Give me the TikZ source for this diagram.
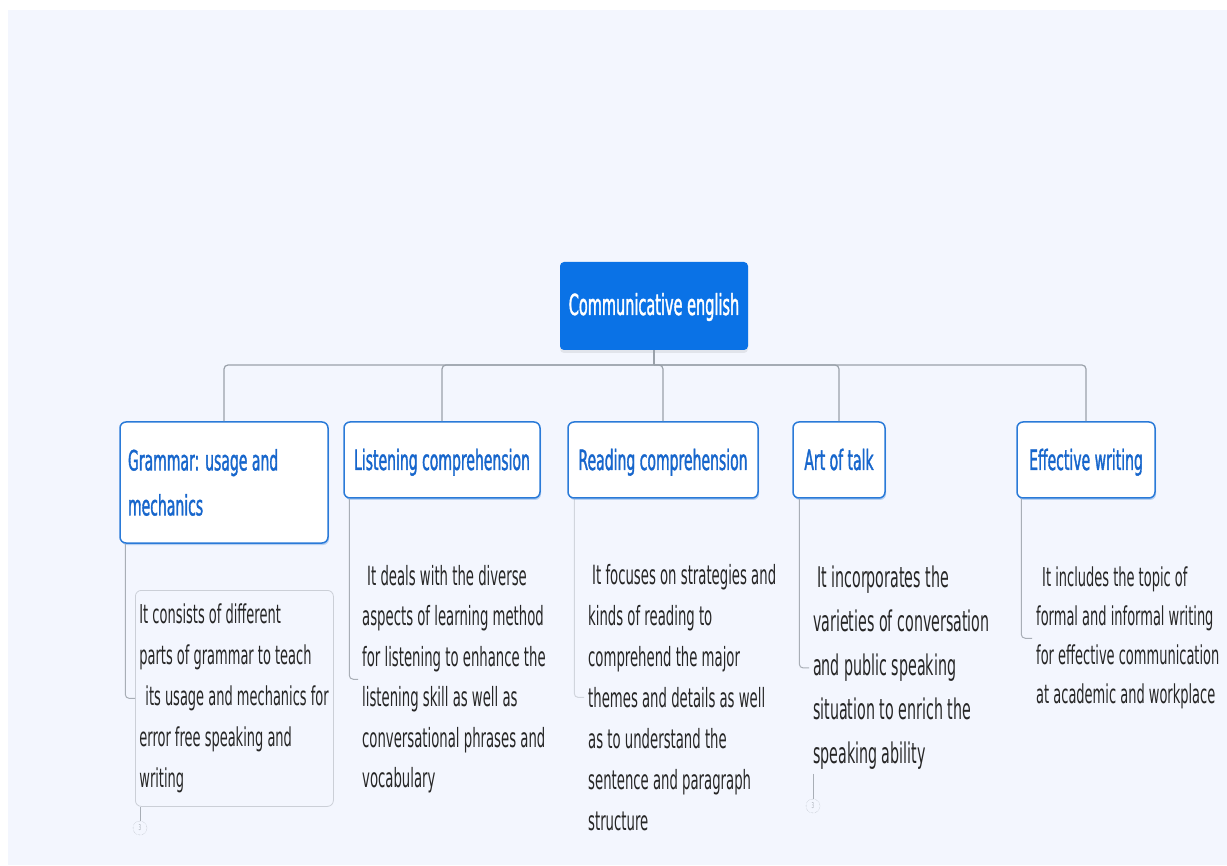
\documentclass[tikz,border=0pt]{standalone}
\usepackage{fontspec}
\setmainfont[FakeStretch=0.5]{DejaVu Sans}
\newfontfamily\headfont[FakeStretch=0.5,FakeBold=1.2]{DejaVu Sans}
\usetikzlibrary{shadows}
\definecolor{bg}{HTML}{F3F6FE}
\definecolor{rootblue}{HTML}{0A72E6}
\definecolor{childblue}{HTML}{2A7AD8}
\definecolor{childtext}{HTML}{1766CC}
\definecolor{linegray}{HTML}{9AA1AA}
\definecolor{subgray}{HTML}{A8AEB6}
\definecolor{boxgray}{HTML}{CBCFD7}
\definecolor{bodytext}{HTML}{262626}
\begin{document}
\begin{tikzpicture}[x=1pt,y=-1pt,
  root/.style={fill=rootblue, text=white, rounded corners=4pt,
    minimum width=188pt, minimum height=88pt, inner sep=0pt,
    text height=24pt, text depth=6pt,
    font=\headfont\fontsize{29}{34}\selectfont,
    drop shadow={shadow xshift=0pt, shadow yshift=-3pt, opacity=0.15, fill=gray}},
  topic/.style={draw=childblue, line width=1.5pt, fill=white, rounded corners=6pt,
    text=childtext, minimum height=76pt, inner xsep=8pt, inner ysep=0pt,
    font=\headfont\fontsize{28}{45}\selectfont,
    drop shadow={shadow xshift=1pt, shadow yshift=-2pt, opacity=0.3, fill=childblue}},
  oneline/.style={text height=26pt, text depth=6pt},
  detail/.style={text=bodytext, align=flush left, inner sep=4pt, anchor=north west},
  conn/.style={draw=linegray, line width=1.2pt},
  sub/.style={draw=subgray, line width=1pt, rounded corners=4pt},
  collapse/.style={circle, draw=subgray, densely dotted, minimum size=14pt, inner sep=0pt,
    text=subgray, font=\fontsize{8}{8}\selectfont}
]
\useasboundingbox (0,0) rectangle (1227,866);
\fill[bg] (8,10) rectangle (1227,865);

% central topic
\node[root] (root) at (654,306) {Communicative english};

% main branches
\node[topic, minimum width=208pt, minimum height=121pt, text width=192pt, align=flush left]
  (g) at (224,482.5) {Grammar: usage and\\mechanics};
\node[topic, oneline, minimum width=196pt] (l) at (442,460) {Listening comprehension};
\node[topic, oneline, minimum width=190pt] (r) at (663,460) {Reading comprehension};
\node[topic, oneline, minimum width=92pt] (a) at (839,460) {Art of talk};
\node[topic, oneline, minimum width=138pt] (e) at (1086,460) {Effective writing};

% connectors from the central topic
\coordinate (bus) at (654,365);
\draw[conn] (root.south) -- (root.south |- bus);
\foreach \c in {g,l,r,a,e}
  \draw[conn, rounded corners=4pt] (root.south |- bus) -| (\c.north);

% descriptions
\node[draw=boxgray, line width=0.8pt, rounded corners=6pt, anchor=north west,
  minimum width=198pt, minimum height=216pt, text width=190pt, inner xsep=4pt,
  align=flush left, text=bodytext, font=\fontsize{26}{41}\selectfont]
  (gd) at (135,590) {It consists of different\\parts of grammar to teach\\\hspace*{6pt}its usage and mechanics for\\error free speaking and\\writing};

\node[detail, font=\fontsize{26.5}{40.5}\selectfont] (ld) at (358,561)
  {\hspace*{5pt}It deals with the diverse\\aspects of learning method\\for listening to enhance the\\listening skill as well as\\conversational phrases and\\vocabulary};

\node[detail, font=\fontsize{26.5}{41}\selectfont] (rd) at (584,560)
  {\hspace*{4pt}It focuses on strategies and\\kinds of reading to\\comprehend the major\\themes and details as well\\as to understand the\\sentence and paragraph\\structure};

\node[detail, font=\fontsize{28.5}{44}\selectfont] (ad) at (809,562)
  {\hspace*{4pt}It incorporates the\\varieties of conversation\\and public speaking\\situation to enrich the\\speaking ability};

\node[detail, font=\fontsize{26}{39}\selectfont] (ed) at (1032,563)
  {\hspace*{6pt}It includes the topic of\\formal and informal writing\\for effective communication\\at academic and workplace};

% branch to description connectors
\draw[sub] ([xshift=6pt]g.south west) |- (gd.west);
\draw[sub] ([xshift=6pt]l.south west) |- (ld.west);
\draw[sub, draw opacity=0.45] ([xshift=7pt]r.south west) |- (rd.west);
\draw[sub] ([xshift=7pt]a.south west) |- (ad.west);
\draw[sub] ([xshift=5pt]e.south west) |- (ed.west);

% collapse markers
\node[collapse] (gc) at (140,828) {3};
\node[collapse] (ac) at (813,806) {3};
\draw[sub] (gc.north |- gd.south) -- (gc.north);
\draw[sub] (ac.north |- ad.south) -- (ac.north);
\end{tikzpicture}
\end{document}
